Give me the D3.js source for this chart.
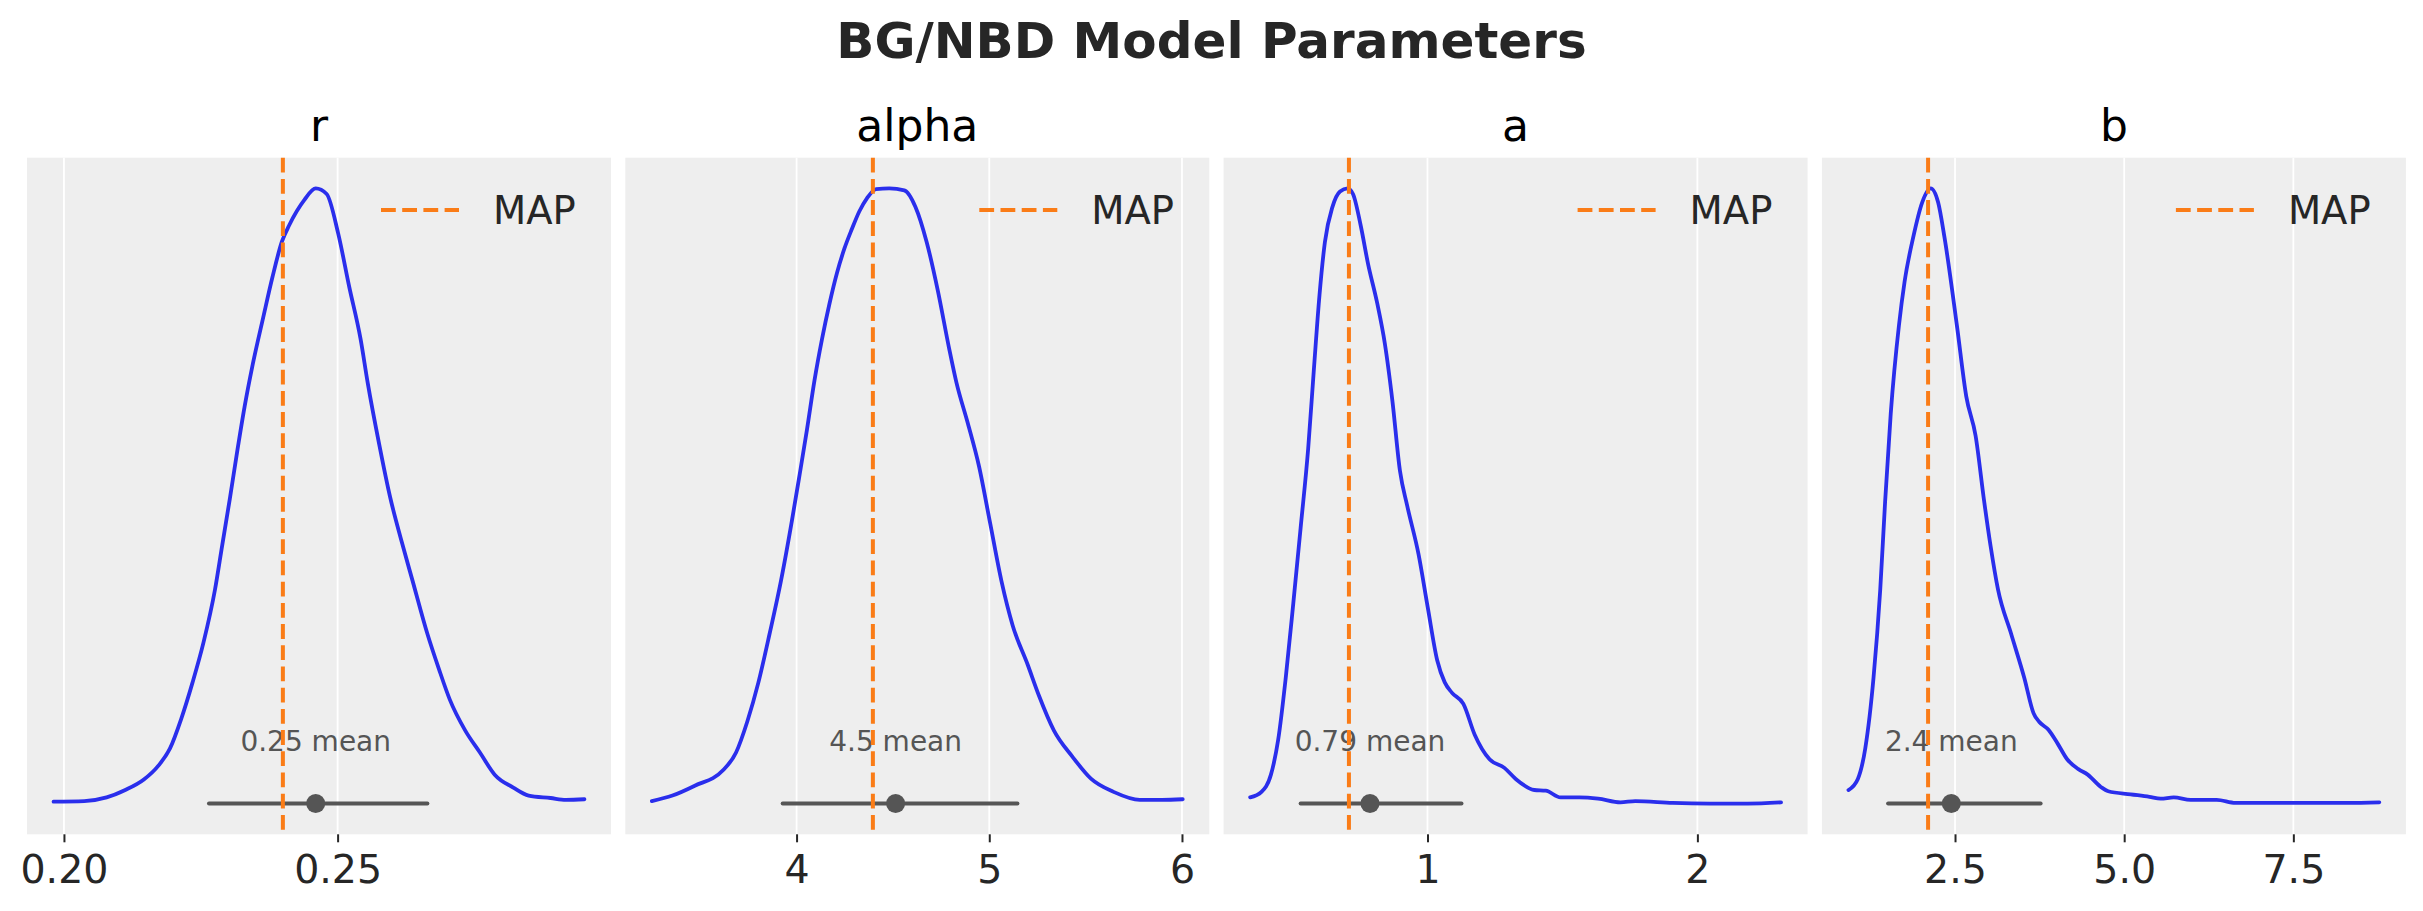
<!DOCTYPE html>
<html>
<head>
<meta charset="utf-8">
<script src="https://cdn.jsdelivr.net/npm/d3@7"></script>
<style>
  body { margin: 0; background: #ffffff; }
  text { font-family: "DejaVu Sans", sans-serif; }
</style>
</head>
<body>
<div id="viz"></div>
<script>
// parameters of the model - one panel each
var params = ['r', 'alpha', 'a', 'b'];

// MAP point estimates (orange dashed lines)
var mapValues = [0.2400, 4.396, 0.709, 2.102];

// posterior mean + 94% hdi
var meanValues = [0.2460, 4.514, 0.787, 2.445];
var meanLabels = ['0.25', '4.5', '0.79', '2.4'];
var hdiLow = [0.2265, 3.928, 0.530, 1.511];
var hdiHigh = [0.2664, 5.146, 1.126, 3.765];

// tick values and labels per panel
var tickValues = [[0.20, 0.25], [4, 5, 6], [1, 2], [2.5, 5.0, 7.5]];
var tickLabels = [['0.20', '0.25'], ['4', '5', '6'], ['1', '2'], ['2.5', '5.0', '7.5']];

// kde of the posterior samples (height relative to the peak)
var rX = [0.1981, 0.2037, 0.2078, 0.2112, 0.2146, 0.2173, 0.2194, 0.2214, 0.2235, 0.2255,
    0.2276, 0.2289, 0.2303, 0.2317, 0.2330, 0.2344, 0.2364, 0.2381, 0.2398, 0.2412,
    0.2439, 0.2460, 0.2480, 0.2501, 0.2521, 0.2542, 0.2555, 0.2576, 0.2596, 0.2617,
    0.2637, 0.2664, 0.2685, 0.2705, 0.2733, 0.2760, 0.2787, 0.2821, 0.2849, 0.2889,
    0.2917, 0.2951];
var rY = [0.003, 0.004, 0.010, 0.022, 0.039, 0.062, 0.090, 0.137, 0.197, 0.262,
    0.348, 0.419, 0.495, 0.575, 0.645, 0.710, 0.790, 0.856, 0.913, 0.941,
    0.981, 1.000, 0.991, 0.927, 0.841, 0.755, 0.684, 0.584, 0.498, 0.426,
    0.362, 0.276, 0.219, 0.169, 0.119, 0.083, 0.047, 0.026, 0.013, 0.009,
    0.006, 0.007];

var alphaX = [3.249, 3.356, 3.472, 3.618, 3.686, 3.744, 3.802, 3.860, 3.919, 3.977,
    4.016, 4.054, 4.093, 4.132, 4.171, 4.210, 4.248, 4.287, 4.326, 4.365,
    4.413, 4.481, 4.559, 4.617, 4.675, 4.733, 4.791, 4.830, 4.888, 4.947,
    5.005, 5.063, 5.121, 5.199, 5.257, 5.335, 5.432, 5.529, 5.645, 5.781,
    5.897, 6.004];
var alphaY = [0.004, 0.013, 0.029, 0.054, 0.083, 0.133, 0.197, 0.276, 0.362, 0.462,
    0.535, 0.608, 0.688, 0.755, 0.813, 0.863, 0.902, 0.934, 0.963, 0.984,
    0.999, 1.000, 0.997, 0.970, 0.913, 0.834, 0.741, 0.684, 0.619, 0.548,
    0.455, 0.362, 0.290, 0.226, 0.176, 0.119, 0.076, 0.040, 0.019, 0.006,
    0.006, 0.007];

var aX = [0.343, 0.385, 0.420, 0.447, 0.475, 0.503, 0.530, 0.558, 0.579, 0.600,
    0.620, 0.648, 0.676, 0.704, 0.724, 0.752, 0.780, 0.814, 0.842, 0.870,
    0.898, 0.925, 0.967, 1.001, 1.036, 1.064, 1.091, 1.133, 1.175, 1.230,
    1.285, 1.327, 1.396, 1.438, 1.493, 1.562, 1.632, 1.715, 1.770, 1.909,
    2.047, 2.186, 2.310];
var aY = [0.010, 0.019, 0.047, 0.104, 0.205, 0.326, 0.448, 0.577, 0.705, 0.827,
    0.913, 0.970, 0.995, 1.000, 0.991, 0.941, 0.877, 0.813, 0.748, 0.655,
    0.541, 0.484, 0.405, 0.319, 0.233, 0.197, 0.180, 0.162, 0.112, 0.072,
    0.058, 0.040, 0.022, 0.021, 0.010, 0.010, 0.008, 0.002, 0.004, 0.001,
    0.000, 0.000, 0.002];

var bX = [0.925, 1.064, 1.174, 1.296, 1.395, 1.467, 1.550, 1.671, 1.754, 1.881,
    2.014, 2.141, 2.251, 2.345, 2.528, 2.666, 2.804, 2.931, 3.025, 3.135,
    3.329, 3.522, 3.660, 3.743, 3.881, 4.019, 4.157, 4.323, 4.461, 4.655,
    4.765, 5.097, 5.373, 5.539, 5.732, 5.981, 6.367, 6.644, 7.196, 7.749,
    8.301, 8.771];
var bY = [0.022, 0.040, 0.090, 0.205, 0.348, 0.491, 0.634, 0.777, 0.848, 0.920,
    0.977, 1.000, 0.977, 0.920, 0.777, 0.662, 0.598, 0.491, 0.419, 0.348,
    0.276, 0.205, 0.147, 0.133, 0.120, 0.097, 0.072, 0.056, 0.047, 0.027,
    0.020, 0.015, 0.011, 0.008, 0.010, 0.006, 0.006, 0.001, 0.001, 0.001,
    0.001, 0.002];

var kdeX = [rX, alphaX, aX, bX];
var kdeY = [rY, alphaY, aY, bY];

// cores - colours
var blue = '#2a2eec';
var orange = '#fa7c17';
var grey = '#555555';

var width = 2423;
var height = 911;

var panelLeft = 27;
var panelStep = 598.3;
var panelW = 584;
var panelTop = 157.7;
var panelBottom = 834.3;

var svg = d3
.select('#viz')
.append('svg')
.attr('width', width)
.attr('height', height)
;

svg.append('rect')
.attr('width', width)
.attr('height', height)
.attr('fill', '#ffffff')
;

// titulo - main title
svg.append('text')
.text('BG/NBD Model Parameters')
.attr('x', width / 2)
.attr('y', 58)
.attr('text-anchor', 'middle')
.attr('font-size', '50px')
.attr('font-weight', 'bold')
.attr('fill', '#262626')
;

params.forEach(function(p, i) {
    var left = panelLeft + i * panelStep;
    var pts = kdeX[i].map(function(v, j) { return [v, kdeY[i][j]]; });

    // 5% margins like matplotlib
    var ext = d3.extent(kdeX[i]);
    var pad = (ext[1] - ext[0]) * 0.05;

    var x = d3.scaleLinear()
    .domain([ext[0] - pad, ext[1] + pad])
    .range([left, left + panelW]);

    var y = d3.scaleLinear()
    .domain([-0.05, 1.05])
    .range([panelBottom, panelTop]);

    var g = svg.append('g').attr('class', 'panel_' + p);

    g.append('rect')
    .attr('x', left)
    .attr('y', panelTop)
    .attr('width', panelW)
    .attr('height', panelBottom - panelTop)
    .attr('fill', '#eeeeee')
    ;

    // grid
    g.selectAll('line.grid')
    .data(tickValues[i])
    .enter()
    .append('line')
    .attr('class', 'grid')
    .attr('x1', function(d) { return x(d); })
    .attr('x2', function(d) { return x(d); })
    .attr('y1', panelTop)
    .attr('y2', panelBottom)
    .attr('stroke', '#ffffff')
    .attr('stroke-width', 1.8)
    ;

    // eixo x - x axis
    var axis = d3.axisBottom(x)
    .tickValues(tickValues[i])
    .tickFormat(function(d, k) { return tickLabels[i][k]; })
    .tickSize(8)
    .tickPadding(12.5);

    var ax = g.append('g')
    .attr('transform', 'translate(0,' + panelBottom + ')')
    .call(axis);

    ax.select('.domain').remove();
    ax.selectAll('.tick line')
    .attr('stroke', '#262626')
    .attr('stroke-width', 2);
    ax.selectAll('.tick text')
    .attr('fill', '#262626')
    .attr('font-size', '39.5px')
    .attr('font-family', '"DejaVu Sans", sans-serif');

    // subplot title
    g.append('text')
    .text(p)
    .attr('x', left + panelW / 2)
    .attr('y', 141)
    .attr('text-anchor', 'middle')
    .attr('font-size', '44px')
    .attr('fill', '#000000')
    ;

    // kde curve
    var line = d3.line()
    .x(function(d) { return x(d[0]); })
    .y(function(d) { return y(d[1]); })
    .curve(d3.curveMonotoneX);

    g.append('path')
    .datum(pts)
    .attr('d', line)
    .attr('fill', 'none')
    .attr('stroke', blue)
    .attr('stroke-width', 3.8)
    .attr('stroke-linejoin', 'round')
    .attr('stroke-linecap', 'round')
    ;

    // hdi
    g.append('line')
    .attr('x1', x(hdiLow[i]))
    .attr('x2', x(hdiHigh[i]))
    .attr('y1', y(0))
    .attr('y2', y(0))
    .attr('stroke', grey)
    .attr('stroke-width', 4)
    .attr('stroke-linecap', 'round')
    ;

    g.append('circle')
    .attr('cx', x(meanValues[i]))
    .attr('cy', y(0))
    .attr('r', 9.5)
    .attr('fill', grey)
    ;

    g.append('text')
    .text(meanLabels[i] + ' mean')
    .attr('x', x(meanValues[i]))
    .attr('y', y(0) - 53)
    .attr('text-anchor', 'middle')
    .attr('font-size', '28px')
    .attr('fill', grey)
    ;

    // MAP
    g.append('line')
    .attr('x1', x(mapValues[i]))
    .attr('x2', x(mapValues[i]))
    .attr('y1', panelTop)
    .attr('y2', panelBottom)
    .attr('stroke', orange)
    .attr('stroke-width', 4)
    .attr('stroke-dasharray', '14.8,6.4')
    ;

    // legenda - legend
    g.append('line')
    .attr('x1', left + 354)
    .attr('x2', left + 432)
    .attr('y1', 210)
    .attr('y2', 210)
    .attr('stroke', orange)
    .attr('stroke-width', 4)
    .attr('stroke-dasharray', '14.8,6.4')
    ;

    g.append('text')
    .text('MAP')
    .attr('x', left + 466)
    .attr('y', 224)
    .attr('font-size', '38.5px')
    .attr('fill', '#262626')
    ;
});
</script>
</body>
</html>
